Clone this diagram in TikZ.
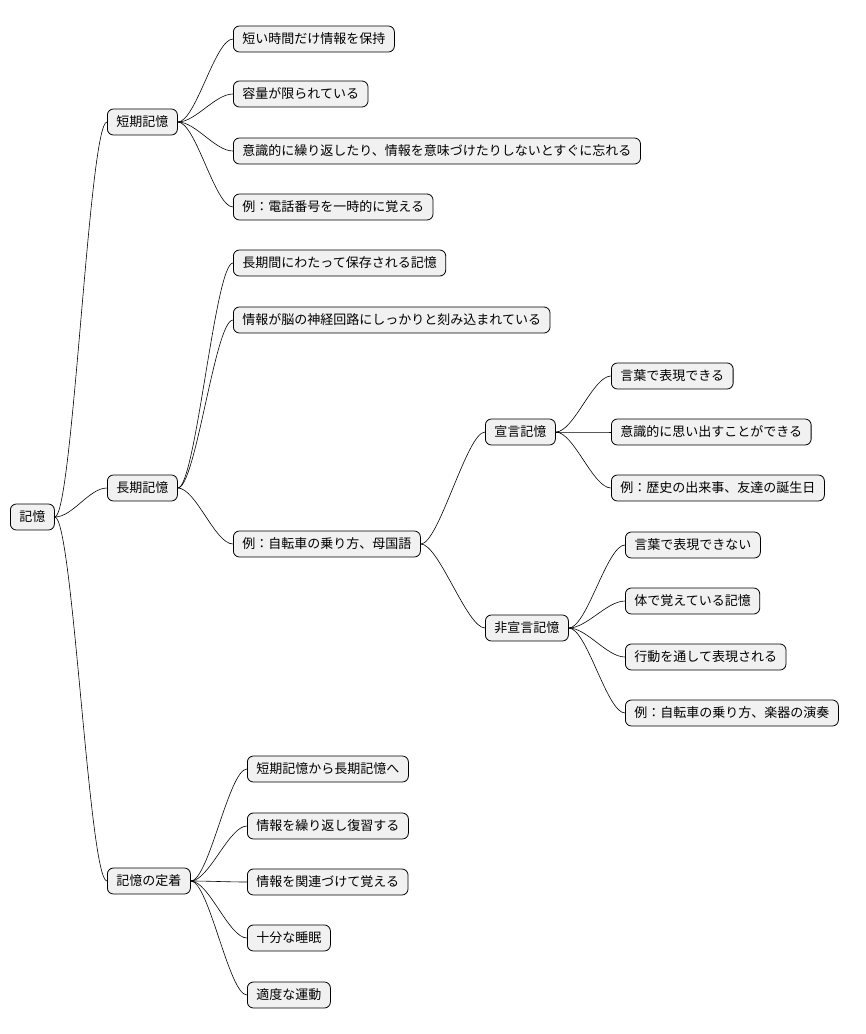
\documentclass[tikz,border=0pt]{standalone}
\usepackage{fontspec}
\newfontfamily\cjk{Noto Sans CJK JP}
\definecolor{boxfill}{HTML}{F1F1F1}
\tikzset{
  box/.style={draw, fill=boxfill, rounded corners=6pt, anchor=west, minimum height=26pt,
    inner xsep=9pt, font=\cjk\fontsize{13}{15}\selectfont, line width=0.8pt},
  link/.style={line width=0.6pt}
}
\begin{document}
\begin{tikzpicture}[x=1pt, y=-1pt]
  \useasboundingbox (0,0) rectangle (866,1034);
  \node[box] (root) at (10, 517) {記憶};
  \node[box] (stm) at (107, 122) {短期記憶};
  \node[box] (s1) at (233, 39) {短い時間だけ情報を保持};
  \node[box] (s2) at (233, 94) {容量が限られている};
  \node[box] (s3) at (233, 151) {意識的に繰り返したり、情報を意味づけたりしないとすぐに忘れる};
  \node[box] (s4) at (233, 207) {例：電話番号を一時的に覚える};
  \node[box] (ltm) at (107, 488) {長期記憶};
  \node[box] (l1) at (233, 263) {長期間にわたって保存される記憶};
  \node[box] (l2) at (233, 320) {情報が脳の神経回路にしっかりと刻み込まれている};
  \node[box] (l3) at (233, 544) {例：自転車の乗り方、母国語};
  \node[box] (dec) at (485, 432) {宣言記憶};
  \node[box] (d1) at (611, 376) {言葉で表現できる};
  \node[box] (d2) at (611, 432) {意識的に思い出すことができる};
  \node[box] (d3) at (611, 488) {例：歴史の出来事、友達の誕生日};
  \node[box] (ndec) at (485, 628) {非宣言記憶};
  \node[box] (n1) at (625, 545) {言葉で表現できない};
  \node[box] (n2) at (625, 601) {体で覚えている記憶};
  \node[box] (n3) at (625, 657) {行動を通して表現される};
  \node[box] (n4) at (625, 713) {例：自転車の乗り方、楽器の演奏};
  \node[box] (fix) at (107, 881) {記憶の定着};
  \node[box] (f1) at (247, 769) {短期記憶から長期記憶へ};
  \node[box] (f2) at (247, 826) {情報を繰り返し復習する};
  \node[box] (f3) at (247, 882) {情報を関連づけて覚える};
  \node[box] (f4) at (247, 938) {十分な睡眠};
  \node[box] (f5) at (247, 995) {適度な運動};
  \foreach \p/\c in {root/stm, root/ltm, root/fix,
      stm/s1, stm/s2, stm/s3, stm/s4,
      ltm/l1, ltm/l2, ltm/l3, l3/dec, l3/ndec,
      dec/d1, dec/d2, dec/d3, ndec/n1, ndec/n2, ndec/n3, ndec/n4,
      fix/f1, fix/f2, fix/f3, fix/f4, fix/f5}
    \draw[link] (\p.east) .. controls +(18,0) and +(-18,0) .. (\c.west);
\end{tikzpicture}
\end{document}
